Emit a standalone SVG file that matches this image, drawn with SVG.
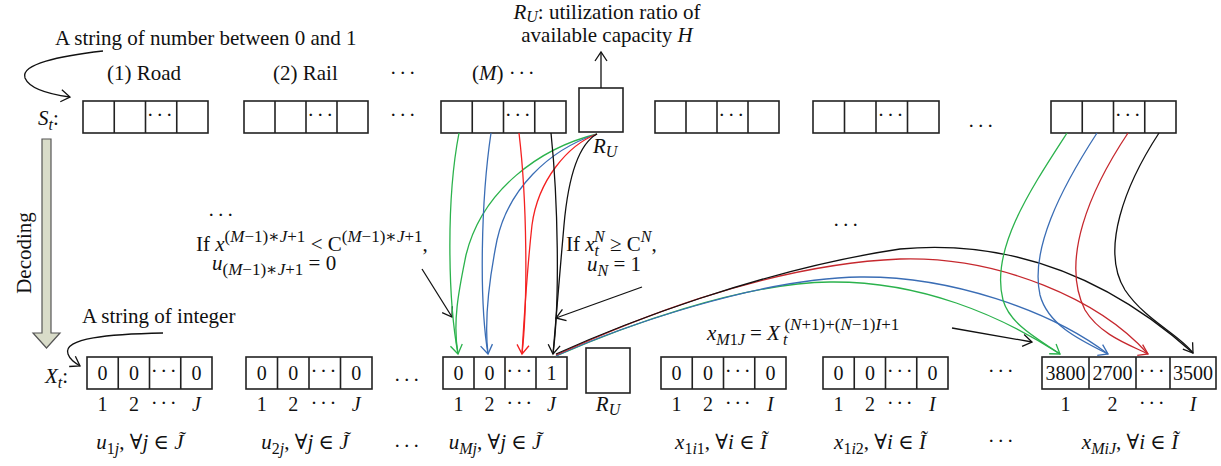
<svg xmlns="http://www.w3.org/2000/svg" width="1221" height="466" viewBox="0 0 1221 466">
<style>
text { font-family: "Liberation Serif", "DejaVu Serif", serif; font-size: 21px; fill: #111; }
.i { font-style: italic; }
.s { font-size: 16px; }
.p { font-size: 17px; }
.n { font-size: 20px; }
.d { letter-spacing: 2.5px; }
.box { fill: #fff; stroke: #222; stroke-width: 1.6; }
.dv { fill: none; stroke: #222; stroke-width: 1.6; }
.k { fill: none; stroke: #111; stroke-width: 1.3; }
.g { fill: none; stroke: #2bb24c; stroke-width: 1.3; }
.b { fill: none; stroke: #3a6db5; stroke-width: 1.3; }
.r { fill: none; stroke: #f42020; stroke-width: 1.3; }
.r2 { fill: none; stroke: #c6282e; stroke-width: 1.3; }
</style>
<defs>
<marker id="ak" markerUnits="userSpaceOnUse" markerWidth="14" markerHeight="14" refX="12" refY="7" orient="auto" viewBox="0 0 14 14"><path d="M3,1 L12,7 L3,13" fill="none" stroke="#111" stroke-width="1.3"/></marker>
<marker id="ag" markerUnits="userSpaceOnUse" markerWidth="14" markerHeight="14" refX="12" refY="7" orient="auto" viewBox="0 0 14 14"><path d="M3,1 L12,7 L3,13" fill="none" stroke="#2bb24c" stroke-width="1.3"/></marker>
<marker id="ab" markerUnits="userSpaceOnUse" markerWidth="14" markerHeight="14" refX="12" refY="7" orient="auto" viewBox="0 0 14 14"><path d="M3,1 L12,7 L3,13" fill="none" stroke="#3a6db5" stroke-width="1.3"/></marker>
<marker id="ar" markerUnits="userSpaceOnUse" markerWidth="14" markerHeight="14" refX="12" refY="7" orient="auto" viewBox="0 0 14 14"><path d="M3,1 L12,7 L3,13" fill="none" stroke="#f42020" stroke-width="1.3"/></marker>
<marker id="ar2" markerUnits="userSpaceOnUse" markerWidth="14" markerHeight="14" refX="12" refY="7" orient="auto" viewBox="0 0 14 14"><path d="M3,1 L12,7 L3,13" fill="none" stroke="#c6282e" stroke-width="1.3"/></marker>
</defs>
<rect width="1221" height="466" fill="#fff"/>

<!-- top labels -->
<g id="title">
<text x="607" y="19" text-anchor="middle"><tspan class="i">R</tspan><tspan class="s i" dy="3">U</tspan><tspan dy="-3">: utilization ratio of</tspan></text>
<text x="607" y="42" text-anchor="middle">available capacity <tspan class="i">H</tspan></text>
</g>
<g id="label-top-string"><text x="55" y="45">A string of number between 0 and 1</text></g>
<g id="mode-labels">
<text x="107" y="80">(1) Road</text>
<text x="273" y="80">(2) Rail</text>
<text x="404" y="80" text-anchor="middle" class="d">···</text>
<text x="472" y="80">(<tspan class="i">M</tspan>) <tspan class="d">···</tspan></text>
</g>
<g id="St-label"><text x="38" y="125"><tspan class="i">S</tspan><tspan class="i s" dy="5">t</tspan><tspan dy="-5">:</tspan></text></g>

<!-- top row boxes -->
<g id="top-box-1"><rect class="box" x="83" y="101" width="125" height="32"/><path class="dv" d="M114.25,101V133M145.5,101V133M176.75,101V133"/><text x="161.1" y="122" text-anchor="middle" class="d">···</text></g>
<g id="top-box-2"><rect class="box" x="244" y="101" width="124" height="32"/><path class="dv" d="M275,101V133M306,101V133M337,101V133"/><text x="321.5" y="122" text-anchor="middle" class="d">···</text></g>
<g id="top-dots-1"><text x="404" y="122" text-anchor="middle" class="d">···</text></g>
<g id="top-box-M"><rect class="box" x="441" y="101" width="125" height="32"/><path class="dv" d="M472.25,101V133M503.5,101V133M534.75,101V133"/><text x="519.1" y="122" text-anchor="middle" class="d">···</text></g>
<g id="top-RU"><rect class="box" x="579" y="88" width="44" height="44"/><text x="593" y="153"><tspan class="i">R</tspan><tspan class="i s" dy="4">U</tspan></text></g>
<g id="top-box-3"><rect class="box" x="655" y="101" width="124" height="32"/><path class="dv" d="M686,101V133M717,101V133M748,101V133"/><text x="732.5" y="122" text-anchor="middle" class="d">···</text></g>
<g id="top-box-4"><rect class="box" x="813" y="101" width="126" height="32"/><path class="dv" d="M844.5,101V133M876,101V133M907.5,101V133"/><text x="891.75" y="122" text-anchor="middle" class="d">···</text></g>
<g id="top-dots-2"><text x="982" y="133" text-anchor="middle" class="d">···</text></g>
<g id="top-box-5"><rect class="box" x="1051" y="101" width="125" height="32"/><path class="dv" d="M1082.25,101V133M1113.5,101V133M1144.75,101V133"/><text x="1129.1" y="122" text-anchor="middle" class="d">···</text></g>

<!-- decoding arrow -->
<g id="decoding">
<path d="M42,139 L51,139 L51,333 L60,333 L46.5,348 L33,333 L42,333 Z" fill="#d9dcc9" stroke="#555" stroke-width="1.2"/>
<text transform="translate(31,253) rotate(-90)" text-anchor="middle">Decoding</text>
</g>

<!-- middle texts -->
<g id="mid-dots"><text x="222" y="222" text-anchor="middle" class="d">···</text><text x="847" y="232" text-anchor="middle" class="d">···</text></g>
<g id="rule-left">
<text x="196" y="251">If <tspan class="i">x</tspan><tspan class="p" dy="-9">(<tspan class="i">M</tspan>−1)∗<tspan class="i">J</tspan>+1</tspan><tspan dy="9"> &lt; C</tspan><tspan class="p" dy="-9">(<tspan class="i">M</tspan>−1)∗<tspan class="i">J</tspan>+1</tspan><tspan dy="9">,</tspan></text>
<text x="212" y="270"><tspan class="i">u</tspan><tspan class="p" dy="5">(<tspan class="i">M</tspan>−1)∗<tspan class="i">J</tspan>+1</tspan><tspan dy="-5"> = 0</tspan></text>
</g>
<g id="rule-right">
<text x="566" y="251">If <tspan class="i">x</tspan><tspan class="i s" dy="5">t</tspan><tspan class="i s" dx="-5" dy="-14">N</tspan><tspan dy="9"> ≥ C</tspan><tspan class="i s" dy="-9">N</tspan><tspan dy="9">,</tspan></text>
<text x="587" y="271"><tspan class="i">u</tspan><tspan class="i s" dy="5">N</tspan><tspan dy="-5"> = 1</tspan></text>
</g>
<g id="rule-xm1j">
<text x="707" y="340"><tspan class="i">x</tspan><tspan class="s" dy="5"><tspan class="i">M</tspan>1<tspan class="i">J</tspan></tspan><tspan dy="-5"> = </tspan><tspan class="i">X</tspan><tspan class="i s" dx="3" dy="5">t</tspan><tspan class="p" dx="-3" dy="-15">(<tspan class="i">N</tspan>+1)+(<tspan class="i">N</tspan>−1)<tspan class="i">I</tspan>+1</tspan></text>
</g>
<g id="label-bottom-string"><text x="82" y="323">A string of integer</text></g>
<g id="Xt-label"><text x="45" y="383"><tspan class="i">X</tspan><tspan class="i s" dy="5">t</tspan><tspan dy="-5">:</tspan></text></g>

<!-- bottom row boxes -->
<g id="bot-box-1"><rect class="box" x="87" y="357" width="125" height="32"/><path class="dv" d="M118.25,357V389M149.5,357V389M180.75,357V389"/>
<text class="n" x="102.6" y="380" text-anchor="middle">0</text><text class="n" x="133.9" y="380" text-anchor="middle">0</text><text x="165.1" y="378" text-anchor="middle" class="d">···</text><text class="n" x="196.4" y="380" text-anchor="middle">0</text>
<text class="n" x="102.6" y="411" text-anchor="middle">1</text><text class="n" x="133.9" y="411" text-anchor="middle">2</text><text x="165.1" y="410" text-anchor="middle" class="d">···</text><text class="n i" x="196.4" y="411" text-anchor="middle">J</text>
<text x="140" y="449" text-anchor="middle"><tspan class="i">u</tspan><tspan class="s" dy="5">1<tspan class="i">j</tspan></tspan><tspan dy="-5">, ∀<tspan class="i">j</tspan> ∈ <tspan class="i">J̃</tspan></tspan></text></g>
<g id="bot-box-2"><rect class="box" x="246" y="357" width="126" height="32"/><path class="dv" d="M277.5,357V389M309,357V389M340.5,357V389"/>
<text class="n" x="261.75" y="380" text-anchor="middle">0</text><text class="n" x="293.25" y="380" text-anchor="middle">0</text><text x="324.75" y="378" text-anchor="middle" class="d">···</text><text class="n" x="356.25" y="380" text-anchor="middle">0</text>
<text class="n" x="261.75" y="411" text-anchor="middle">1</text><text class="n" x="293.25" y="411" text-anchor="middle">2</text><text x="324.75" y="410" text-anchor="middle" class="d">···</text><text class="n i" x="356.25" y="411" text-anchor="middle">J</text>
<text x="305" y="449" text-anchor="middle"><tspan class="i">u</tspan><tspan class="s" dy="5">2<tspan class="i">j</tspan></tspan><tspan dy="-5">, ∀<tspan class="i">j</tspan> ∈ <tspan class="i">J̃</tspan></tspan></text></g>
<g id="bot-dots-1"><text x="408" y="387" text-anchor="middle" class="d">···</text><text x="408" y="453" text-anchor="middle" class="d">···</text></g>
<g id="bot-box-M"><rect class="box" x="443" y="357" width="124" height="32"/><path class="dv" d="M474,357V389M505,357V389M536,357V389"/>
<text class="n" x="458.5" y="380" text-anchor="middle">0</text><text class="n" x="489.5" y="380" text-anchor="middle">0</text><text x="520.5" y="378" text-anchor="middle" class="d">···</text><text class="n" x="551.5" y="380" text-anchor="middle">1</text>
<text class="n" x="458.5" y="411" text-anchor="middle">1</text><text class="n" x="489.5" y="411" text-anchor="middle">2</text><text x="520.5" y="410" text-anchor="middle" class="d">···</text><text class="n i" x="551.5" y="411" text-anchor="middle">J</text>
<text x="495" y="449" text-anchor="middle"><tspan class="i">u</tspan><tspan class="s i" dy="5">Mj</tspan><tspan dy="-5">, ∀<tspan class="i">j</tspan> ∈ <tspan class="i">J̃</tspan></tspan></text></g>
<g id="bot-RU"><rect class="box" x="586" y="348" width="44" height="45"/><text x="608" y="411" text-anchor="middle"><tspan class="i">R</tspan><tspan class="i s" dy="4">U</tspan></text></g>
<g id="bot-box-1i1"><rect class="box" x="661" y="357" width="125" height="32"/><path class="dv" d="M692.25,357V389M723.5,357V389M754.75,357V389"/>
<text class="n" x="676.6" y="380" text-anchor="middle">0</text><text class="n" x="707.9" y="380" text-anchor="middle">0</text><text x="739.1" y="378" text-anchor="middle" class="d">···</text><text class="n" x="770.4" y="380" text-anchor="middle">0</text>
<text class="n" x="676.6" y="411" text-anchor="middle">1</text><text class="n" x="707.9" y="411" text-anchor="middle">2</text><text x="739.1" y="410" text-anchor="middle" class="d">···</text><text class="n i" x="770.4" y="411" text-anchor="middle">I</text>
<text x="721" y="449" text-anchor="middle"><tspan class="i">x</tspan><tspan class="s" dy="5">1<tspan class="i">i</tspan>1</tspan><tspan dy="-5">, ∀<tspan class="i">i</tspan> ∈ <tspan class="i">Ĩ</tspan></tspan></text></g>
<g id="bot-box-1i2"><rect class="box" x="823" y="357" width="125" height="32"/><path class="dv" d="M854.25,357V389M885.5,357V389M916.75,357V389"/>
<text class="n" x="838.6" y="380" text-anchor="middle">0</text><text class="n" x="869.9" y="380" text-anchor="middle">0</text><text x="901.1" y="378" text-anchor="middle" class="d">···</text><text class="n" x="932.4" y="380" text-anchor="middle">0</text>
<text class="n" x="838.6" y="411" text-anchor="middle">1</text><text class="n" x="869.9" y="411" text-anchor="middle">2</text><text x="901.1" y="410" text-anchor="middle" class="d">···</text><text class="n i" x="932.4" y="411" text-anchor="middle">I</text>
<text x="880" y="449" text-anchor="middle"><tspan class="i">x</tspan><tspan class="s" dy="5">1<tspan class="i">i</tspan>2</tspan><tspan dy="-5">, ∀<tspan class="i">i</tspan> ∈ <tspan class="i">Ĩ</tspan></tspan></text></g>
<g id="bot-dots-2"><text x="1002" y="378" text-anchor="middle" class="d">···</text><text x="1002" y="448" text-anchor="middle" class="d">···</text></g>
<g id="bot-box-final"><rect class="box" x="1042" y="357" width="174" height="32"/><path class="dv" d="M1089,357V389M1136,357V389M1170,357V389"/>
<text class="n" x="1065.5" y="380" text-anchor="middle">3800</text><text class="n" x="1112.5" y="380" text-anchor="middle">2700</text><text x="1153" y="378" text-anchor="middle" class="d">···</text><text class="n" x="1193" y="380" text-anchor="middle">3500</text>
<text class="n" x="1065.5" y="411" text-anchor="middle">1</text><text class="n" x="1112.5" y="411" text-anchor="middle">2</text><text x="1153" y="410" text-anchor="middle" class="d">···</text><text class="n i" x="1193" y="411" text-anchor="middle">I</text>
<text x="1130" y="449" text-anchor="middle"><tspan class="i">x</tspan><tspan class="s i" dy="5">MiJ</tspan><tspan dy="-5">, ∀<tspan class="i">i</tspan> ∈ <tspan class="i">Ĩ</tspan></tspan></text></g>

<!-- connectors -->
<g id="connectors">
<path class="k" d="M103,51 C60,56 20,64 25,78 C30,90 55,95 70,97" marker-end="url(#ak)"/>
<path class="k" d="M163,333 C110,334 62,338 68,354 C70,360 75,363 80,366" marker-end="url(#ak)"/>
<path class="k" d="M601,88 L601,52" marker-end="url(#ak)"/>
<path class="k" d="M422,269 L452,317" marker-end="url(#ak)"/>
<path class="k" d="M642,287 L556,318" marker-end="url(#ak)"/>
<path class="k" d="M952,328 L1032,342" marker-end="url(#ak)"/>

<path class="g" d="M597,134 C540,148 482,190 466,255 C460,285 452,320 458,354"/>
<path class="b" d="M597,134 C548,150 508,190 497,240 C490,275 484,320 488,354"/>
<path class="r" d="M597,134 C568,145 538,180 532,225 C527,270 524,320 522,354"/>
<path class="k" d="M597,134 C577,145 568,180 564,225 C560,270 556,320 553,354"/>
<path class="g" d="M459,133 C446,200 448,300 458,354" marker-end="url(#ag)"/>
<path class="b" d="M491,133 C481,200 479,300 488,354" marker-end="url(#ab)"/>
<path class="r" d="M519,133 C527,200 528,300 522,354" marker-end="url(#ar)"/>
<path class="k" d="M551,133 C558,200 560,300 553,354" marker-end="url(#ak)"/>

<path class="g" d="M556,356 C620,328 740,283 830,282 C920,281 1000,315 1060,354"/>
<path class="b" d="M556,356 C620,327 760,278 860,277 C950,276 1050,310 1108,354"/>
<path class="r2" d="M556,355 C620,326 760,265 900,259 C1000,256 1100,300 1148,354"/>
<path class="k" d="M556,354 C620,325 760,270 900,249 C1000,240 1100,270 1193,353"/>

<path class="g" d="M1067,133 C1030,190 990,250 1003,300 C1010,325 1040,340 1060,354" marker-end="url(#ag)"/>
<path class="b" d="M1097,133 C1060,190 1030,250 1040,295 C1048,325 1080,340 1108,354" marker-end="url(#ab)"/>
<path class="r2" d="M1128,133 C1090,190 1060,260 1085,310 C1100,335 1130,345 1148,354" marker-end="url(#ar2)"/>
<path class="k" d="M1159,133 C1125,185 1100,250 1125,290 C1145,320 1180,335 1193,353" marker-end="url(#ak)"/>
</g>
</svg>
